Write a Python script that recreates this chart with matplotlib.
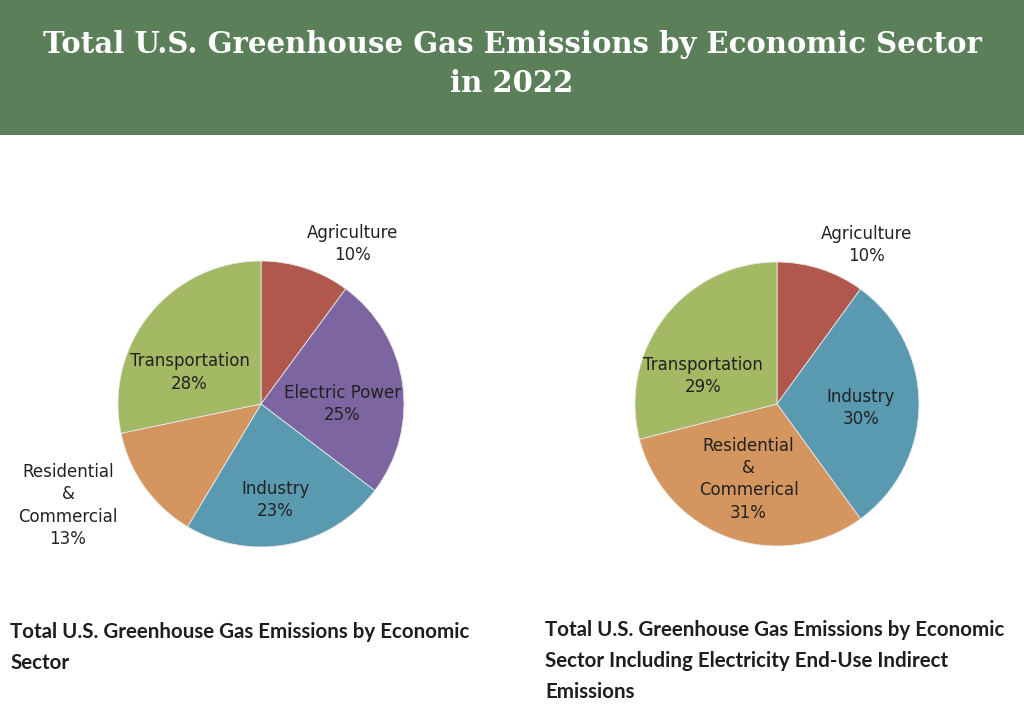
import matplotlib.pyplot as plt
from matplotlib.patches import Rectangle

# data
left_labels = ['Agriculture\n10%', 'Electric Power\n25%', 'Industry\n23%',
               'Residential\n&\nCommercial\n13%', 'Transportation\n28%']
left_values = [10, 25, 23, 13, 28]
left_colors = ['#b0574e', '#7c65a1', '#5a9ab1', '#d4955f', '#a3b964']
# label spots in pie units (radius = 1)
left_label_xy = [(0.64, 1.12), (0.57, 0.0), (0.10, -0.67), (-1.35, -0.71), (-0.50, 0.22)]

right_labels = ['Agriculture\n10%', 'Industry\n30%',
                'Residential\n&\nCommerical\n31%', 'Transportation\n29%']
right_values = [10, 30, 31, 29]
right_colors = ['#b0574e', '#5a9ab1', '#d4955f', '#a3b964']
right_label_xy = [(0.63, 1.12), (0.59, -0.03), (-0.20, -0.53), (-0.52, 0.20)]

title = 'Total U.S. Greenhouse Gas Emissions by Economic Sector\nin 2022'
cap_left = 'Total U.S. Greenhouse Gas Emissions by Economic\nSector'
cap_right = ('Total U.S. Greenhouse Gas Emissions by Economic\n'
             'Sector Including Electricity End-Use Indirect\nEmissions')

W, H = 1024, 719
fig = plt.figure(figsize=(W / 100, H / 100), dpi=100)
fig.patch.set_facecolor('white')

# green banner
fig.patches.append(Rectangle((0, 1 - 135 / H), 1, 135 / H, transform=fig.transFigure,
                             facecolor='#5b7f59', edgecolor='none', zorder=0))
fig.text(0.5, 1 - 64 / H, title, ha='center', va='center', color='white',
         fontsize=21, fontweight='bold', family='DejaVu Serif', linespacing=1.4)


def draw_pie(cx, cy, r, values, colors, labels, label_xy):
    ax = fig.add_axes([(cx - r) / W, 1 - (cy + r) / H, 2 * r / W, 2 * r / H])
    ax.pie(values, colors=colors, startangle=90, counterclock=False,
           wedgeprops=dict(edgecolor='#e8e8e8', linewidth=0.6))
    for lab, (x, y) in zip(labels, label_xy):
        ax.text(x, y, lab, ha='center', va='center', fontsize=12,
                family='DejaVu Sans', color='#222222', linespacing=1.3)
    ax.set_xlim(-1, 1)
    ax.set_ylim(-1, 1)
    ax.set_aspect('equal')
    ax.axis('off')
    return ax


draw_pie(261, 404, 143, left_values, left_colors, left_labels, left_label_xy)
draw_pie(777, 404, 142, right_values, right_colors, right_labels, right_label_xy)

fig.text(10 / W, 1 - 622 / H, cap_left, ha='left', va='top', fontsize=14.8,
         fontweight='bold', family='Lato', color='#1e1e1e', linespacing=1.68)
fig.text(545 / W, 1 - 620 / H, cap_right, ha='left', va='top', fontsize=14.8,
         fontweight='bold', family='Lato', color='#1e1e1e', linespacing=1.68)

fig.savefig('out.png', dpi=100)
